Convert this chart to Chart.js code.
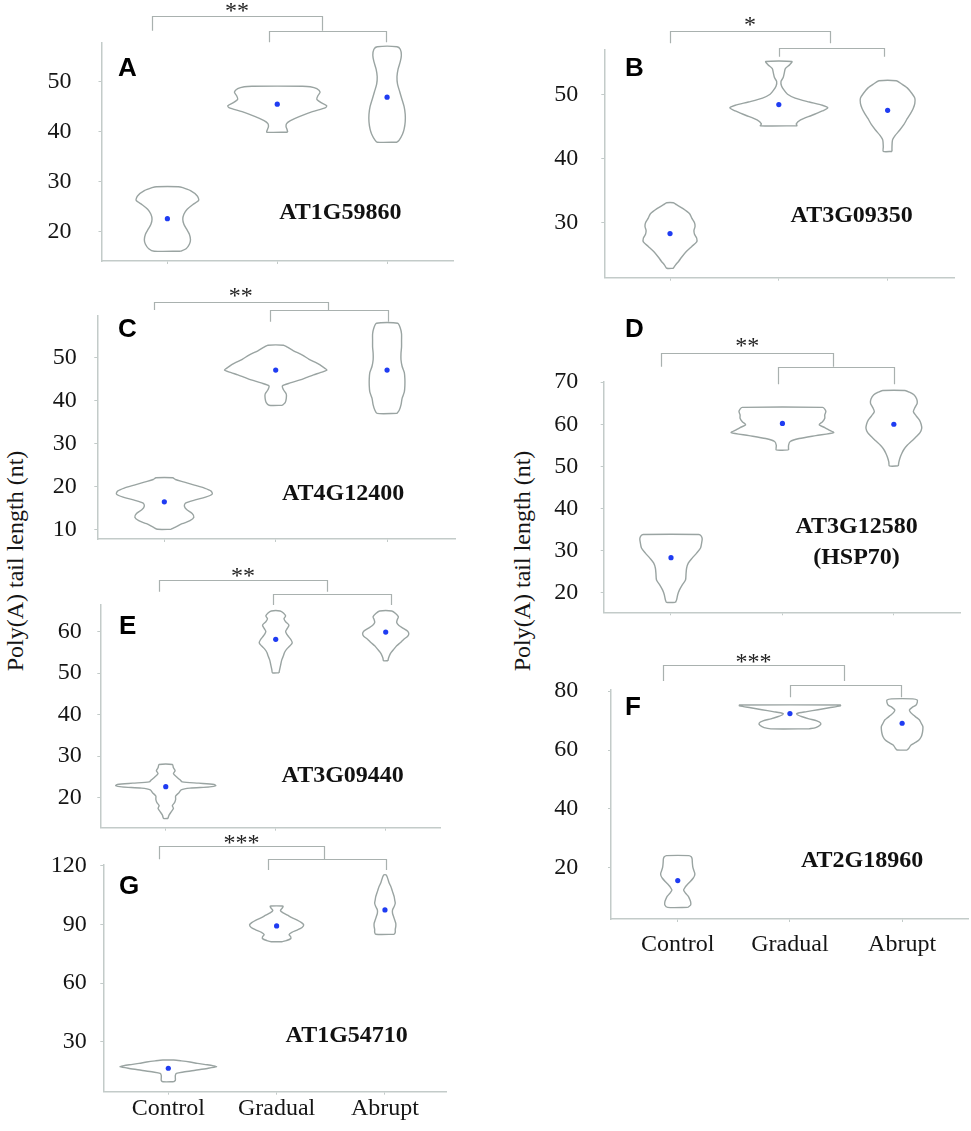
<!DOCTYPE html>
<html>
<head>
<meta charset="utf-8">
<script src="https://cdn.jsdelivr.net/npm/chart.js@4.4.1/dist/chart.umd.min.js"></script>
<style>
  html, body { margin: 0; padding: 0; background: #ffffff; }
  #wrap { position: relative; width: 971px; height: 1131px; overflow: hidden; background: #fff; }
  #wrap canvas { position: absolute; left: 0; top: 0; }
  .ytitle { position: absolute; font-family: "Liberation Serif", "Times New Roman", serif; font-size: 24px;
            color: #151515; white-space: nowrap; transform: translate(-50%, -50%) rotate(-90deg); }
</style>
</head>
<body>
<div id="wrap">
  <div class="ytitle" style="left:15px; top:561px;">Poly(A) tail length (nt)</div>
  <div class="ytitle" style="left:522px; top:561px;">Poly(A) tail length (nt)</div>
</div>
<script>
// ---------------- DATA ----------------
const categories = ['Control', 'Gradual', 'Abrupt'];
const panelLetters = ['A', 'B', 'C', 'D', 'E', 'F', 'G'];
const geneLabels = ['AT1G59860', 'AT3G09350', 'AT4G12400', 'AT3G12580\n(HSP70)', 'AT3G09440', 'AT2G18960', 'AT1G54710'];
const significance = ['**', '*', '**', '**', '**', '***', '***'];

const yTicksA = [20, 30, 40, 50];
const yTicksB = [30, 40, 50];
const yTicksC = [10, 20, 30, 40, 50];
const yTicksD = [20, 30, 40, 50, 60, 70];
const yTicksE = [20, 30, 40, 50, 60];
const yTicksF = [20, 40, 60, 80];
const yTicksG = [30, 60, 90, 120];

// medians (blue dots): Control, Gradual, Abrupt
const medianA = [22.6, 45.5, 46.9];
const medianB = [28.3, 48.4, 47.5];
const medianC = [16.4, 47.1, 47.1];
const medianD = [28.3, 60.2, 60.0];
const medianE = [22.65, 58.15, 59.9];
const medianF = [15.6, 72.4, 69.1];
const medianG = [16.4, 89.3, 97.5];

// violin profiles: [tail length (nt), half-width of density (fraction of category spacing)]
const violinA_Control = [[16.1,0.12],[16.6,0.17],[17.5,0.2],[18.4,0.21],[19.5,0.2],[20.5,0.175],[21.5,0.15],[22.5,0.14],[23.5,0.15],[24.5,0.18],[25.4,0.23],[26.3,0.285],[27.2,0.27],[28.2,0.21],[28.8,0.14],[29.0,0.1]];
const violinA_Gradual = [[39.9,0.095],[40.4,0.09],[41.0,0.08],[41.6,0.085],[42.2,0.12],[43.0,0.2],[44.0,0.32],[44.8,0.44],[45.2,0.45],[45.8,0.4],[46.5,0.36],[47.2,0.37],[47.9,0.39],[48.6,0.36],[49.0,0.3],[49.1,0.23]];
const violinA_Abrupt = [[37.9,0.09],[38.3,0.11],[39.5,0.14],[40.5,0.155],[42.0,0.165],[43.5,0.165],[45.0,0.155],[46.5,0.135],[48.0,0.115],[49.5,0.095],[51.0,0.09],[52.5,0.1],[54.0,0.12],[55.3,0.13],[56.5,0.12],[57.0,0.09]];

const violinB_Control = [[22.9,0.03],[23.4,0.05],[24.0,0.08],[24.7,0.11],[25.5,0.15],[26.3,0.2],[27.0,0.245],[27.6,0.245],[28.2,0.225],[28.8,0.22],[29.4,0.23],[30.0,0.225],[30.7,0.2],[31.4,0.18],[32.2,0.12],[32.8,0.06],[33.1,0.03]];
const violinB_Gradual = [[45.1,0.17],[45.4,0.16],[46.0,0.2],[46.7,0.3],[47.4,0.4],[47.9,0.45],[48.3,0.4],[48.8,0.28],[49.4,0.15],[50.0,0.08],[50.6,0.05],[51.3,0.025],[52.0,0.02],[52.6,0.04],[53.3,0.05],[54.0,0.06],[54.6,0.1],[55.1,0.12]];
const violinB_Abrupt = [[41.1,0.04],[41.8,0.04],[42.9,0.045],[43.6,0.07],[44.4,0.11],[45.3,0.15],[46.2,0.18],[47.0,0.21],[47.8,0.235],[48.6,0.25],[49.4,0.25],[50.2,0.22],[51.0,0.18],[51.6,0.13],[52.1,0.08]];

const violinC_Control = [[10.0,0.06],[10.5,0.1],[11.3,0.16],[12.0,0.23],[12.8,0.265],[13.7,0.25],[14.6,0.2],[15.4,0.18],[16.1,0.19],[16.8,0.27],[17.5,0.37],[18.2,0.43],[18.9,0.42],[19.6,0.36],[20.3,0.27],[21.0,0.18],[21.6,0.1],[22.0,0.075]];
const violinC_Gradual = [[38.9,0.06],[39.5,0.085],[40.5,0.095],[41.5,0.095],[42.5,0.07],[43.4,0.06],[44.1,0.13],[44.8,0.22],[45.4,0.28],[46.0,0.34],[46.5,0.4],[47.1,0.46],[47.9,0.42],[48.7,0.37],[49.6,0.3],[50.6,0.24],[51.6,0.16],[52.5,0.1],[52.9,0.07]];
const violinC_Abrupt = [[37.0,0.09],[37.8,0.11],[39.0,0.125],[40.5,0.135],[42.0,0.155],[43.5,0.16],[45.0,0.16],[46.5,0.155],[48.0,0.135],[49.5,0.125],[51.0,0.125],[52.5,0.13],[54.0,0.13],[55.5,0.13],[56.8,0.12],[58.0,0.095]];

const violinD_Control = [[17.7,0.04],[18.3,0.05],[19.5,0.06],[20.6,0.075],[21.8,0.1],[23.0,0.13],[24.5,0.135],[25.8,0.14],[27.0,0.155],[28.2,0.19],[29.4,0.23],[30.6,0.265],[31.8,0.275],[32.8,0.28],[33.5,0.27],[33.8,0.25]];
const violinD_Gradual = [[53.9,0.055],[55.0,0.055],[55.9,0.07],[56.6,0.15],[57.3,0.3],[58.0,0.46],[58.6,0.42],[59.2,0.38],[59.9,0.33],[60.6,0.36],[61.4,0.38],[62.2,0.38],[63.0,0.39],[63.6,0.38],[64.0,0.36]];
const violinD_Abrupt = [[50.1,0.04],[51.0,0.045],[52.0,0.055],[53.0,0.07],[54.0,0.09],[55.0,0.12],[56.0,0.16],[57.0,0.2],[58.0,0.235],[59.0,0.25],[60.0,0.245],[61.0,0.23],[62.0,0.2],[63.0,0.175],[64.0,0.19],[65.0,0.21],[66.0,0.205],[67.0,0.18],[67.6,0.14],[68.0,0.1]];

const violinE_Control = [[15.0,0.02],[15.8,0.03],[16.6,0.05],[17.4,0.07],[18.1,0.06],[18.8,0.08],[19.6,0.09],[20.4,0.09],[21.2,0.12],[21.9,0.14],[22.3,0.22],[22.6,0.4],[22.9,0.455],[23.2,0.44],[23.5,0.3],[23.8,0.15],[24.3,0.13],[25.0,0.1],[25.8,0.07],[26.5,0.085],[27.2,0.07],[28.0,0.06]];
const violinE_Gradual = [[50.1,0.03],[50.8,0.035],[52.0,0.045],[53.2,0.055],[54.2,0.07],[55.0,0.08],[55.8,0.1],[56.6,0.13],[57.3,0.15],[58.0,0.14],[58.7,0.12],[59.4,0.1],[60.1,0.09],[60.8,0.105],[61.6,0.12],[62.4,0.09],[63.1,0.075],[63.8,0.09],[64.5,0.07],[65.0,0.04]];
const violinE_Abrupt = [[53.0,0.02],[53.6,0.025],[54.3,0.035],[55.0,0.05],[55.8,0.075],[56.6,0.1],[57.4,0.135],[58.2,0.165],[58.9,0.2],[59.5,0.21],[60.1,0.2],[60.8,0.16],[61.5,0.12],[62.2,0.1],[62.9,0.105],[63.6,0.115],[64.4,0.09],[65.0,0.055]];

const violinF_Control = [[6.5,0.09],[7.3,0.115],[8.4,0.115],[9.4,0.105],[10.3,0.093],[11.3,0.07],[12.4,0.052],[13.3,0.065],[14.1,0.082],[15.2,0.11],[16.4,0.137],[17.3,0.15],[18.1,0.152],[19.2,0.142],[20.3,0.134],[21.8,0.13],[23.0,0.128],[23.7,0.12],[24.1,0.1]];
const violinF_Gradual = [[67.2,0.17],[67.6,0.23],[68.3,0.265],[69.1,0.275],[69.9,0.24],[70.6,0.17],[71.3,0.11],[71.9,0.07],[72.4,0.06],[73.05,0.15],[73.7,0.25],[74.35,0.35],[75.0,0.45],[75.3,0.45]];
const violinF_Abrupt = [[60.0,0.045],[60.6,0.06],[61.7,0.08],[62.6,0.12],[63.4,0.15],[64.5,0.17],[65.7,0.18],[67.0,0.185],[68.0,0.185],[69.1,0.17],[70.2,0.155],[71.0,0.13],[71.9,0.1],[72.8,0.075],[73.6,0.065],[74.5,0.09],[75.3,0.125],[76.2,0.135],[77.0,0.135],[77.4,0.095]];

const violinG_Control = [[9.5,0.05],[10.2,0.065],[11.5,0.065],[12.8,0.065],[13.8,0.075],[14.5,0.14],[15.4,0.25],[16.3,0.36],[17.2,0.445],[17.6,0.42],[18.2,0.36],[18.9,0.27],[19.6,0.2],[20.2,0.12],[20.6,0.05]];
const violinG_Gradual = [[81.2,0.05],[81.8,0.09],[82.8,0.13],[83.8,0.13],[84.8,0.115],[86.0,0.14],[87.2,0.19],[88.5,0.235],[89.8,0.25],[91.0,0.23],[92.3,0.19],[93.5,0.14],[94.8,0.1],[96.0,0.06],[97.2,0.035],[98.3,0.05],[99.2,0.06],[99.5,0.05]];
const violinG_Abrupt = [[85.0,0.085],[86.0,0.095],[87.5,0.095],[89.0,0.1],[90.6,0.1],[92.3,0.09],[94.0,0.08],[95.7,0.07],[97.5,0.07],[99.2,0.085],[100.9,0.095],[102.6,0.09],[104.3,0.085],[106.0,0.075],[107.7,0.065],[109.4,0.055],[111.1,0.04],[112.8,0.03],[114.5,0.02],[115.4,0.01]];

// ---------------- LAYOUT (positions / styles) ----------------
const W = 971, H = 1131;
const SERIF = '"Liberation Serif", "Times New Roman", serif';
const SANS = '"Liberation Sans", Arial, sans-serif';
const VIOLIN_COLOR = '#9aa4a2';
const AXIS_COLOR = '#c3cbc9';
const BRACKET_COLOR = '#a9b1af';
const MEDIAN_COLOR = '#1f3cf2';

const panels = [
  { box:[101.5,43,453,261],   x:[0.4,3.6],   y:[14.14,57.74], yTicks:yTicksA, gap:30, violins:[violinA_Control,violinA_Gradual,violinA_Abrupt], medians:medianA,
    outer:[0.858,2.41,-27,-12.3], inner:[1.927,2.99,-12.3,-0.7], starY:-36, letterPos:[16.5,33], genePos:[2.574,23.7], xLabels:false },
  { box:[604.3,50,954,277.7], x:[0.396,3.61], y:[21.43,56.9], yTicks:yTicksB, gap:26, violins:[violinB_Control,violinB_Gradual,violinB_Abrupt], medians:medianB,
    outer:[1.0,2.47,-19.3,-6.7], inner:[2.0,2.97,-2.3,6.7], starY:-29.3, letterPos:[20.7,26], genePos:[2.67,31.0], xLabels:false },
  { box:[97.3,316,455,539],   x:[0.398,3.61], y:[7.74,59.7], yTicks:yTicksC, gap:20.6, violins:[violinC_Control,violinC_Gradual,violinC_Abrupt], medians:medianC,
    outer:[0.905,2.466,-14.3,-6], inner:[1.945,3.006,-6,5.7], starY:-24.3, letterPos:[20.7,21], genePos:[2.605,18.2], xLabels:false },
  { box:[603.7,381.7,960.7,612.3], x:[0.396,3.6], y:[15.34,70.1], yTicks:yTicksD, gap:25.4, violins:[violinD_Control,violinD_Gradual,violinD_Abrupt], medians:medianD,
    outer:[0.913,2.455,-28.4,-15], inner:[1.962,3.0,-15,2.6], starY:-40, letterPos:[21.3,-44.4], genePos:[2.665,35.7], xLabels:false },
  { box:[100.3,604.3,440.7,827.7], x:[0.405,3.5], y:[12.77,66.6], yTicks:yTicksE, gap:18.6, violins:[violinE_Control,violinE_Gradual,violinE_Abrupt], medians:medianE,
    outer:[0.939,2.468,-24.3,-12.6], inner:[1.972,3.048,-10,0.7], starY:-32.6, letterPos:[18.7,30], genePos:[2.609,25.2], xLabels:false },
  { box:[611,690,968.3,919],  x:[0.405,3.59], y:[2.55,80.4], yTicks:yTicksF, gap:32.7, violins:[violinF_Control,violinF_Gradual,violinF_Abrupt], medians:medianF,
    outer:[0.872,2.479,-25,-9], inner:[1.997,2.99,-5,7.3], starY:-31.7, letterPos:[14,25], genePos:[2.643,22.4], xLabels:true, xPad:8 },
  { box:[103.3,865,446.7,1091.7], x:[0.4,3.57], y:[4.4,120.5], yTicks:yTicksG, gap:16.6, violins:[violinG_Control,violinG_Gradual,violinG_Abrupt], medians:medianG,
    outer:[0.914,2.438,-19,-5.7], inner:[1.924,3.008,-5.7,5], starY:-25.7, letterPos:[15.7,29], genePos:[2.647,32.95], xLabels:true, xPad:0 }
];

function violinPoints(profile, center) {
  const right = profile.map(([v, w]) => ({ x: center + w, y: v }));
  const left = profile.slice().reverse().map(([v, w]) => ({ x: center - w, y: v }));
  const pts = right.concat(left);
  pts.push({ x: pts[0].x, y: pts[0].y });
  return pts;
}

function annotations(p, idx) {
  return {
    id: 'annot' + idx,
    afterDraw(chart) {
      const ctx = chart.ctx, xs = chart.scales.x, ys = chart.scales.y;
      const top = chart.chartArea.top, left = chart.chartArea.left;
      ctx.save();
      ctx.strokeStyle = BRACKET_COLOR;
      ctx.lineWidth = 1.2;
      [p.outer, p.inner].forEach(([x1, x2, y, leg]) => {
        const X1 = Math.round(xs.getPixelForValue(x1)) + 0.5, X2 = Math.round(xs.getPixelForValue(x2)) + 0.5;
        const Y = Math.round(top + y) + 0.5;
        ctx.beginPath();
        ctx.moveTo(X1, top + leg); ctx.lineTo(X1, Y); ctx.lineTo(X2, Y); ctx.lineTo(X2, top + leg);
        ctx.stroke();
      });
      ctx.fillStyle = '#222';
      ctx.font = '24px ' + SERIF;
      ctx.textAlign = 'center';
      ctx.textBaseline = 'alphabetic';
      ctx.fillText(significance[idx], xs.getPixelForValue((p.outer[0] + p.outer[1]) / 2), top + p.starY + 11);

      ctx.fillStyle = '#000';
      ctx.font = 'bold 26px ' + SANS;
      ctx.textAlign = 'left';
      ctx.fillText(panelLetters[idx], left + p.letterPos[0], top + p.letterPos[1]);

      ctx.fillStyle = '#111';
      ctx.font = 'bold 24px ' + SERIF;
      ctx.textAlign = 'center';
      ctx.textBaseline = 'middle';
      const gx = xs.getPixelForValue(p.genePos[0]), gy = ys.getPixelForValue(p.genePos[1]);
      geneLabels[idx].split('\n').forEach((t, i) => ctx.fillText(t, gx, gy + i * 31.6));
      ctx.restore();
    }
  };
}

const wrap = document.getElementById('wrap');
const YW = 60, XH = 40;

panels.forEach((p, idx) => {
  const cv = document.createElement('canvas');
  cv.width = W; cv.height = H;
  cv.style.width = W + 'px'; cv.style.height = H + 'px';
  wrap.appendChild(cv);
  const [L, T, R, B] = p.box;
  const datasets = p.violins.map((prof, i) => ({
    data: violinPoints(prof, i + 1),
    showLine: true, fill: false, tension: 0.25,
    borderColor: VIOLIN_COLOR, borderWidth: 1.4,
    pointRadius: 0, pointHoverRadius: 0, clip: false, order: 2
  }));
  datasets.push({
    data: p.medians.map((v, i) => ({ x: i + 1, y: v })),
    showLine: false, pointRadius: 2.6, pointHoverRadius: 2.6,
    pointBackgroundColor: MEDIAN_COLOR, pointBorderColor: MEDIAN_COLOR, pointBorderWidth: 0, clip: false, order: 1
  });
  new Chart(cv, {
    type: 'scatter',
    data: { datasets },
    options: {
      responsive: false, animation: false,
      layout: { autoPadding: false, padding: { left: L - YW, top: T, right: W - R, bottom: H - B - XH } },
      plugins: { legend: { display: false }, tooltip: { enabled: false }, title: { display: false } },
      events: [],
      scales: {
        x: {
          type: 'linear', min: p.x[0], max: p.x[1],
          afterFit: s => { s.height = XH; },
          afterBuildTicks: s => { s.ticks = categories.map((c, i) => ({ value: i + 1 })); },
          grid: { display: true, drawOnChartArea: false, drawTicks: true, tickLength: 3, color: AXIS_COLOR },
          border: { display: true, color: AXIS_COLOR, width: 1.5 },
          ticks: { display: p.xLabels, padding: p.xPad || 0, maxRotation: 0, autoSkip: false,
                   font: { family: SERIF, size: 24 }, color: '#151515',
                   callback: v => categories[Math.round(v) - 1] || '' }
        },
        y: {
          type: 'linear', min: p.y[0], max: p.y[1],
          afterFit: s => { s.width = YW; },
          afterBuildTicks: s => { s.ticks = p.yTicks.map(v => ({ value: v })); },
          grid: { display: true, drawOnChartArea: false, drawTicks: true, tickLength: 3, color: AXIS_COLOR },
          border: { display: true, color: AXIS_COLOR, width: 1.5 },
          ticks: { padding: p.gap - 3, autoSkip: false, font: { family: SERIF, size: 24 }, color: '#151515',
                   callback: v => String(v) }
        }
      }
    },
    plugins: [annotations(p, idx)]
  });
});
</script>
</body>
</html>
